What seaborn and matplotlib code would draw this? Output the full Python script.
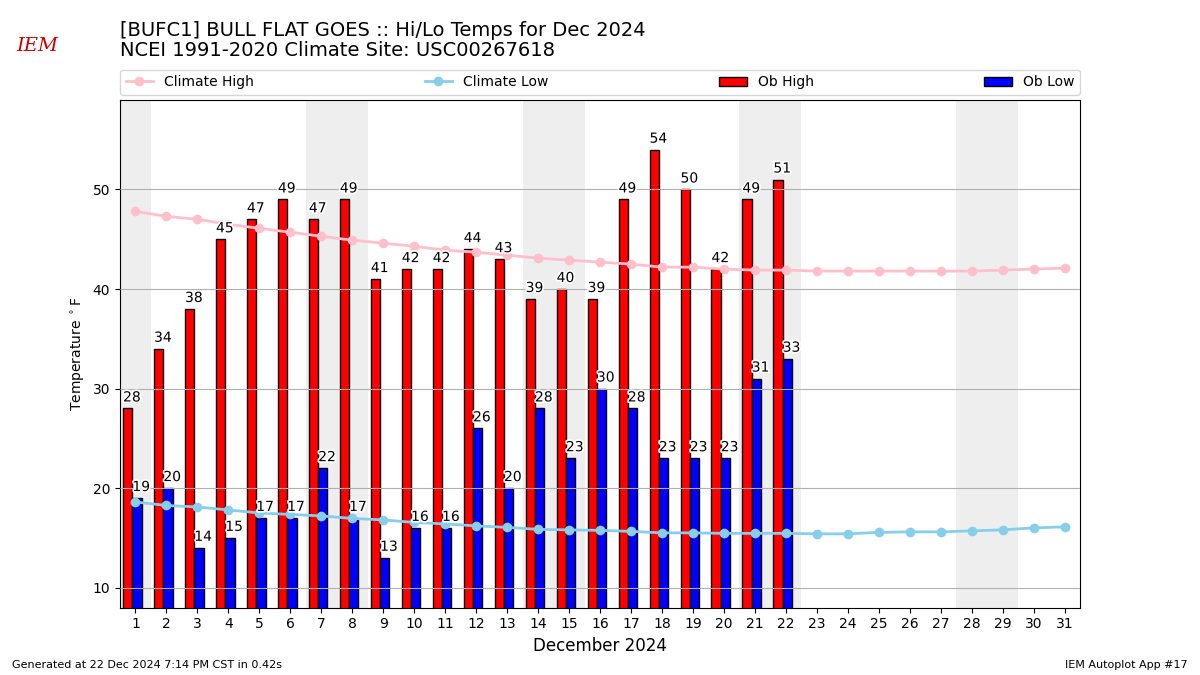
import matplotlib
matplotlib.use("Agg")
import matplotlib.pyplot as plt
import matplotlib.patheffects as pe
import seaborn as sns
import pandas as pd

# Daily observations, Dec 2024 (through the 22nd)
ob_high = [28, 34, 38, 45, 47, 49, 47, 49, 41, 42, 42, 44, 43, 39, 40, 39,
           49, 54, 50, 42, 49, 51]
ob_low = [19, 20, 14, 15, 17, 17, 22, 17, 13, 16, 16, 26, 20, 28, 23, 30,
          28, 23, 23, 23, 31, 33]

# NCEI 1991-2020 daily climatology, all 31 days
clim_high = [47.8, 47.3, 47.0, 46.5, 46.1, 45.7, 45.3, 44.9, 44.6, 44.3, 43.9,
             43.7, 43.4, 43.1, 42.9, 42.7, 42.5, 42.2, 42.2, 42.0, 41.9, 41.9,
             41.8, 41.8, 41.8, 41.8, 41.8, 41.8, 41.9, 42.0, 42.1]
clim_low = [18.6, 18.25, 18.1, 17.8, 17.5, 17.35, 17.2, 16.95, 16.8, 16.55,
            16.4, 16.2, 16.05, 15.85, 15.8, 15.75, 15.65, 15.5, 15.5, 15.45,
            15.45, 15.45, 15.4, 15.4, 15.55, 15.6, 15.6, 15.7, 15.8, 16.0, 16.1]

# Saturdays in Dec 2024 (weekend shading); Dec 1 is a Sunday
saturdays = [0, 7, 14, 21, 28]

days = list(range(1, 32))
obs_days = list(range(1, len(ob_high) + 1))
clim = pd.DataFrame({"day": days, "high": clim_high, "low": clim_low})

fig = plt.figure(figsize=(12, 6.75), dpi=100)
ax = fig.add_axes([0.1, 0.1, 0.8, 0.752])

for sat in saturdays:
    ax.axvspan(sat - 0.5, sat + 1.5, color="#EEEEEE", zorder=0, lw=0)

sns.lineplot(data=clim, x="day", y="high", ax=ax, color="pink", marker="o",
             markersize=7, markeredgewidth=0, lw=2, label="Climate High",
             zorder=3)
sns.lineplot(data=clim, x="day", y="low", ax=ax, color="skyblue", marker="o",
             markersize=7, markeredgewidth=0, lw=2, label="Climate Low",
             zorder=3)

hx = [d - 0.4 for d in obs_days]
lx = [d - 0.1 for d in obs_days]
ax.bar(hx, ob_high, width=0.3, align="edge", color="r", edgecolor="k",
       label="Ob High", zorder=1)
ax.bar(lx, ob_low, width=0.3, align="edge", color="b", edgecolor="k",
       label="Ob Low", zorder=1)

effects = [pe.withStroke(linewidth=2.5, foreground="white")]
for x, v in zip(hx, ob_high):
    ax.text(x, v + 0.4, f"{v}", ha="left", va="bottom", fontsize=10,
            zorder=5, path_effects=effects)
for x, v in zip(lx, ob_low):
    ax.text(x, v + 0.4, f"{v}", ha="left", va="bottom", fontsize=10,
            zorder=5, path_effects=effects)

ax.set_xlim(0.5, 31.5)
ax.set_ylim(8, 59)
ax.set_xticks(days)
ax.set_yticks([10, 20, 30, 40, 50])
ax.grid(axis="y", color="#b0b0b0", lw=0.8, zorder=2)
ax.set_axisbelow(False)
ax.tick_params(labelsize=10)
ax.set_xlabel("December 2024", fontsize=12)
ax.set_ylabel(r"Temperature $^\circ$F")

ax.legend(loc="lower left", bbox_to_anchor=(0, 1.01, 1, 0.05), ncol=4,
          mode="expand", fontsize=10, borderaxespad=0)

fig.text(0.1, 0.969, "[BUFC1] BULL FLAT GOES :: Hi/Lo Temps for Dec 2024\n"
         "NCEI 1991-2020 Climate Site: USC00267618", fontsize=14, va="top",
         ha="left", linespacing=1.1)
fig.text(0.031, 0.925, "IEM", color="#cc0000", fontsize=14, style="italic",
         family="DejaVu Serif", ha="center")
fig.text(0.01, 0.01, "Generated at 22 Dec 2024 7:14 PM CST in 0.42s",
         fontsize=8)
fig.text(0.99, 0.01, "IEM Autoplot App #17", fontsize=8, ha="right")

fig.savefig("out.png", dpi=100)
